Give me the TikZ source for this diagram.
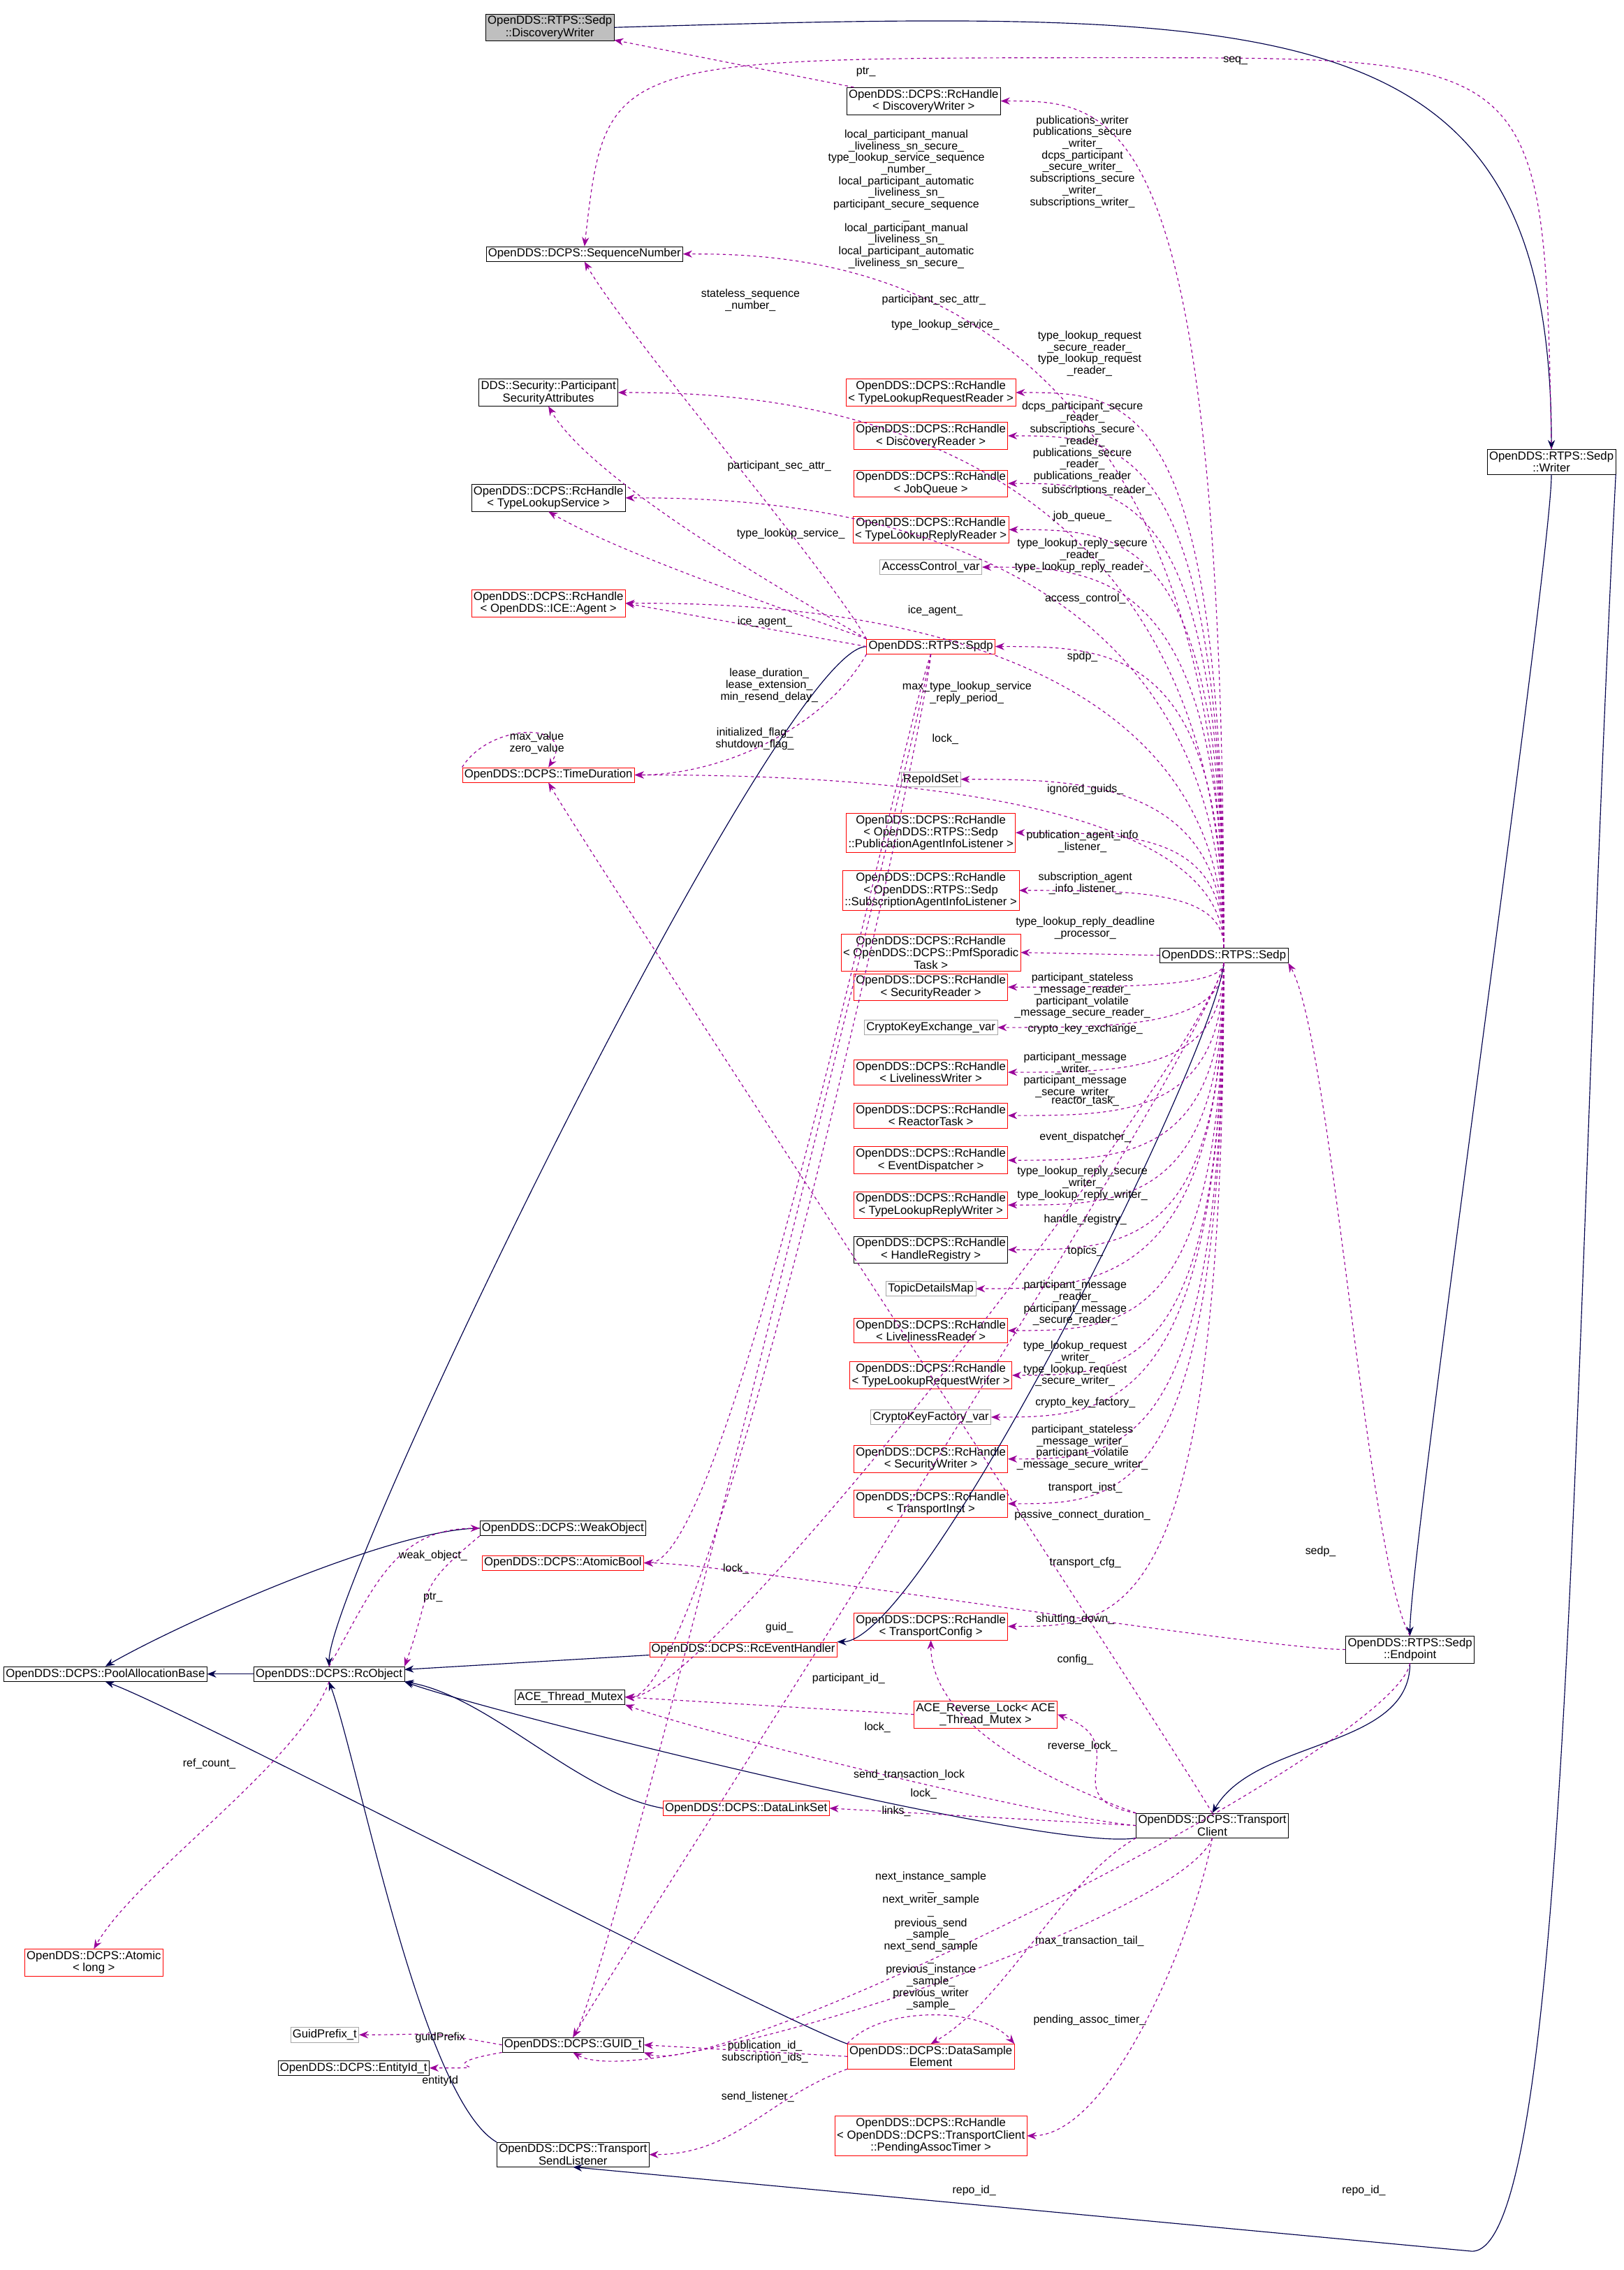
\documentclass[tikz,border=0pt]{standalone}
\usepackage{fontspec}
\setmainfont{Liberation Sans}
\usetikzlibrary{arrows.meta}
\tikzset{
  cls/.style={draw=black, fill=white, rectangle, inner sep=2pt, align=center, font=\fontsize{11.5}{12}\selectfont},
  redcls/.style={cls, draw=red},
  graycls/.style={cls, draw=black!35},
  gray fill/.style={cls, fill=black!25},
  inh/.style={-{Stealth[length=9pt,width=7pt]}, draw=blue!30!black, thick},
  dep/.style={-{Stealth[length=9pt,width=7pt]}, draw=violet!80!magenta, dashed, thick},
  lbl/.style={align=center, font=\fontsize{11}{11.5}\selectfont}
}
% curve from #1 leaving at page angle #2, entering #4 from page angle #3
\newcommand\crv[4]{(#1) .. controls +({-(#2)}:60) and +({-(#3)}:60) .. (#4)}
\begin{document}
\begin{tikzpicture}[x=0.5mm,y=-0.5mm]
  \useasboundingbox (0,0) rectangle (1125,1573);
  % left column
  \node[gray fill] (dw) at (381,19) {OpenDDS::RTPS::Sedp\\::DiscoveryWriter};
  \node[cls] (rhdw) at (640,70) {OpenDDS::DCPS::RcHandle\\< DiscoveryWriter >};
  \node[cls] (seqn) at (405,176) {OpenDDS::DCPS::SequenceNumber};
  \node[cls] (psa) at (380,272) {DDS::Security::Participant\\SecurityAttributes};
  \node[cls] (rhtls) at (380,345) {OpenDDS::DCPS::RcHandle\\< TypeLookupService >};
  \node[redcls] (rhice) at (380,418) {OpenDDS::DCPS::RcHandle\\< OpenDDS::ICE::Agent >};
  \node[redcls] (tdur) at (380,537) {OpenDDS::DCPS::TimeDuration};
  \node[redcls] (spdp) at (645,448) {OpenDDS::RTPS::Spdp};
  \node[cls] (weak) at (390,1059) {OpenDDS::DCPS::WeakObject};
  \node[redcls] (abool) at (390,1083) {OpenDDS::DCPS::AtomicBool};
  \node[cls] (pool) at (73,1160) {OpenDDS::DCPS::PoolAllocationBase};
  \node[cls] (rcobj) at (228,1160) {OpenDDS::DCPS::RcObject};
  \node[redcls] (rceh) at (515,1143) {OpenDDS::DCPS::RcEventHandler};
  \node[cls] (mutex) at (395,1176) {ACE\_Thread\_Mutex};
  \node[redcls] (revlock) at (683,1188) {ACE\_Reverse\_Lock< ACE\\\_Thread\_Mutex >};
  \node[redcls] (dls) at (517,1253) {OpenDDS::DCPS::DataLinkSet};
  \node[redcls] (atomic) at (65,1360) {OpenDDS::DCPS::Atomic\\< long >};
  \node[graycls] (gpref) at (225,1410) {GuidPrefix\_t};
  \node[cls] (eid) at (245,1433) {OpenDDS::DCPS::EntityId\_t};
  \node[cls] (guid) at (397,1417) {OpenDDS::DCPS::GUID\_t};
  \node[redcls] (dse) at (645,1425) {OpenDDS::DCPS::DataSample\\Element};
  \node[redcls] (pat) at (645,1480) {OpenDDS::DCPS::RcHandle\\< OpenDDS::DCPS::TransportClient\\::PendingAssocTimer >};
  \node[cls] (tsl) at (397,1493) {OpenDDS::DCPS::Transport\\SendListener};
  \node[cls] (tc) at (840,1265) {OpenDDS::DCPS::Transport\\Client};
  \node[cls] (endp) at (977,1143) {OpenDDS::RTPS::Sedp\\::Endpoint};
  \node[cls] (wr) at (1075,320) {OpenDDS::RTPS::Sedp\\::Writer};
  \node[cls] (sedp) at (848,662) {OpenDDS::RTPS::Sedp};
  % middle column
  \node[redcls] (tlrqr) at (645,272) {OpenDDS::DCPS::RcHandle\\< TypeLookupRequestReader >};
  \node[redcls] (dread) at (645,302) {OpenDDS::DCPS::RcHandle\\< DiscoveryReader >};
  \node[redcls] (jobq) at (645,335) {OpenDDS::DCPS::RcHandle\\< JobQueue >};
  \node[redcls] (tlrpr) at (645,367) {OpenDDS::DCPS::RcHandle\\< TypeLookupReplyReader >};
  \node[graycls] (acv) at (645,393) {AccessControl\_var};
  \node[graycls] (ris) at (645,540) {RepoIdSet};
  \node[redcls] (pail) at (645,577) {OpenDDS::DCPS::RcHandle\\< OpenDDS::RTPS::Sedp\\::PublicationAgentInfoListener >};
  \node[redcls] (sail) at (645,617) {OpenDDS::DCPS::RcHandle\\< OpenDDS::RTPS::Sedp\\::SubscriptionAgentInfoListener >};
  \node[redcls] (pmf) at (645,660) {OpenDDS::DCPS::RcHandle\\< OpenDDS::DCPS::PmfSporadic\\Task >};
  \node[redcls] (secr) at (645,684) {OpenDDS::DCPS::RcHandle\\< SecurityReader >};
  \node[graycls] (ckev) at (645,712) {CryptoKeyExchange\_var};
  \node[redcls] (livw) at (645,743) {OpenDDS::DCPS::RcHandle\\< LivelinessWriter >};
  \node[redcls] (reac) at (645,773) {OpenDDS::DCPS::RcHandle\\< ReactorTask >};
  \node[redcls] (evd) at (645,804) {OpenDDS::DCPS::RcHandle\\< EventDispatcher >};
  \node[redcls] (tlrpw) at (645,835) {OpenDDS::DCPS::RcHandle\\< TypeLookupReplyWriter >};
  \node[cls] (hreg) at (645,866) {OpenDDS::DCPS::RcHandle\\< HandleRegistry >};
  \node[graycls] (tdm) at (645,893) {TopicDetailsMap};
  \node[redcls] (livr) at (645,922) {OpenDDS::DCPS::RcHandle\\< LivelinessReader >};
  \node[redcls] (tlrqw) at (645,953) {OpenDDS::DCPS::RcHandle\\< TypeLookupRequestWriter >};
  \node[graycls] (ckfv) at (645,982) {CryptoKeyFactory\_var};
  \node[redcls] (secw) at (645,1011) {OpenDDS::DCPS::RcHandle\\< SecurityWriter >};
  \node[redcls] (tinst) at (645,1042) {OpenDDS::DCPS::RcHandle\\< TransportInst >};
  \node[redcls] (tcfg) at (645,1127) {OpenDDS::DCPS::RcHandle\\< TransportConfig >};

  % inheritance
  \draw[inh] (dw.east) .. controls (900,5) and (1075,5) .. (wr.north);
  \draw[inh] \crv{wr.south}{-90}{90}{endp.north};
  \draw[inh] \crv{endp.south}{-90}{60}{tc.north};
  \draw[inh] \crv{tc.south west}{190}{-20}{rcobj.south east};
  \draw[inh] (rcobj) -- (pool);
  \draw[inh] \crv{weak.west}{180}{30}{pool.north};
  \draw[inh] (rceh) -- (rcobj);
  \draw[inh] \crv{dls.west}{170}{-10}{rcobj.south east};
  \draw[inh] \crv{dse.north west}{160}{-20}{pool.south};
  \draw[inh] \crv{tsl.north west}{150}{-70}{rcobj.south};
  \draw[inh] (wr.south east) .. controls (1090,900) and (1090,1560) .. (1020,1560) -- (tsl.south);
  \draw[inh] \crv{spdp.west}{180}{90}{rcobj.north};
  \draw[inh] \crv{sedp.south}{-95}{0}{rceh.north east};

  % members
  \draw[dep] (rhdw) -- (dw);
  \draw[dep] (wr.north) .. controls (1070,40) .. (780,40) .. controls (420,40) .. (seqn.north);
  \foreach \t in {rhdw,seqn,psa,rhtls,rhice,spdp,tdur,tlrqr,dread,jobq,tlrpr,acv,ris,pail,sail}
    \draw[dep] (sedp.north) .. controls (sedp.north |- \t.east) and +(80,0) .. (\t.east);
  \draw[dep] (sedp.west) -- (pmf.east);
  \foreach \t in {secr,ckev,livw,reac,evd,tlrpw,hreg,tdm,livr,tlrqw,ckfv,secw,tinst,tcfg}
    \draw[dep] (sedp.south) .. controls (sedp.south |- \t.east) and +(80,0) .. (\t.east);
  \draw[dep] \crv{sedp.south}{-100}{0}{mutex.east};
  \draw[dep] \crv{sedp.south}{-100}{60}{guid.north};
  \draw[dep] \crv{spdp.north west}{120}{-60}{seqn.south};
  \draw[dep] \crv{spdp.north west}{150}{-60}{psa.south};
  \draw[dep] \crv{spdp.north west}{160}{-30}{rhtls.south};
  \draw[dep] (spdp.west) -- (rhice.east);
  \draw[dep] \crv{spdp.south west}{-120}{0}{tdur.east};
  \draw[dep] (tdur.north west) .. controls (340,500) and (400,500) .. (tdur.north);
  \draw[dep] \crv{spdp.south}{-110}{0}{abool.east};
  \draw[dep] \crv{spdp.south}{-95}{0}{mutex.east};
  \draw[dep] \crv{spdp.south}{-100}{60}{guid.north};
  \draw[dep] \crv{endp.west}{180}{0}{abool.east};
  \draw[dep] \crv{endp.north}{120}{-60}{sedp.south east};
  \draw[dep] \crv{endp.south}{-100}{-20}{guid.south east};
  \draw[dep] \crv{tc.north}{120}{-60}{tdur.south};
  \draw[dep] \crv{tc.north west}{160}{-90}{tcfg.south};
  \draw[dep] \crv{tc.north west}{170}{-20}{revlock.east};
  \draw[dep] (revlock.west) -- (mutex.east);
  \draw[dep] \crv{tc.west}{175}{-20}{mutex.south east};
  \draw[dep] (tc.west) -- (dls.east);
  \draw[dep] \crv{tc.south west}{-150}{30}{dse.north};
  \draw[dep] (dse.north west) .. controls (610,1390) and (680,1390) .. (dse.north east);
  \draw[dep] \crv{tc.south}{-100}{0}{pat.east};
  \draw[dep] \crv{tc.south}{-110}{-30}{guid.south};
  \draw[dep] (dse.west) -- (guid.east);
  \draw[dep] \crv{dse.south west}{-160}{0}{tsl.east};
  \draw[dep] \crv{guid.west}{170}{0}{gpref.east};
  \draw[dep] \crv{guid.south west}{-170}{0}{eid.east};
  \draw[dep] \crv{rcobj.north}{60}{180}{weak.west};
  \draw[dep] \crv{weak.south west}{-140}{70}{rcobj.north east};
  \draw[dep] \crv{rcobj.south}{-110}{60}{atomic.north};

  % labels
  \node[lbl] at (600,50) {ptr\_};
  \node[lbl] at (856,42) {seq\_};
  \node[lbl] at (750,112) {publications\_writer\\publications\_secure\\\_writer\_\\dcps\_participant\\\_secure\_writer\_\\subscriptions\_secure\\\_writer\_\\subscriptions\_writer\_};
  \node[lbl] at (628,138) {local\_participant\_manual\\\_liveliness\_sn\_secure\_\\type\_lookup\_service\_sequence\\\_number\_\\local\_participant\_automatic\\\_liveliness\_sn\_\\participant\_secure\_sequence\\\_\\local\_participant\_manual\\\_liveliness\_sn\_\\local\_participant\_automatic\\\_liveliness\_sn\_secure\_};
  \node[lbl] at (520,208) {stateless\_sequence\\\_number\_};
  \node[lbl] at (647,208) {participant\_sec\_attr\_};
  \node[lbl] at (655,225) {type\_lookup\_service\_};
  \node[lbl] at (540,323) {participant\_sec\_attr\_};
  \node[lbl] at (548,370) {type\_lookup\_service\_};
  \node[lbl] at (648,423) {ice\_agent\_};
  \node[lbl] at (530,431) {ice\_agent\_};
  \node[lbl] at (533,475) {lease\_duration\_\\lease\_extension\_\\min\_resend\_delay\_};
  \node[lbl] at (372,515) {max\_value\\zero\_value};
  \node[lbl] at (523,512) {initialized\_flag\_\\shutdown\_flag\_};
  \node[lbl] at (670,480) {max\_type\_lookup\_service\\\_reply\_period\_};
  \node[lbl] at (655,512) {lock\_};
  \node[lbl] at (750,455) {spdp\_};
  \node[lbl] at (755,245) {type\_lookup\_request\\\_secure\_reader\_\\type\_lookup\_request\\\_reader\_};
  \node[lbl] at (750,306) {dcps\_participant\_secure\\\_reader\_\\subscriptions\_secure\\\_reader\_\\publications\_secure\\\_reader\_\\publications\_reader};
  \node[lbl] at (760,340) {subscriptions\_reader\_};
  \node[lbl] at (750,358) {job\_queue\_};
  \node[lbl] at (750,385) {type\_lookup\_reply\_secure\\\_reader\_\\type\_lookup\_reply\_reader\_};
  \node[lbl] at (752,415) {access\_control\_};
  \node[lbl] at (752,547) {ignored\_guids\_};
  \node[lbl] at (750,583) {publication\_agent\_info\\\_listener\_};
  \node[lbl] at (752,612) {subscription\_agent\\\_info\_listener\_};
  \node[lbl] at (752,643) {type\_lookup\_reply\_deadline\\\_processor\_};
  \node[lbl] at (750,690) {participant\_stateless\\\_message\_reader\_\\participant\_volatile\\\_message\_secure\_reader\_};
  \node[lbl] at (752,713) {crypto\_key\_exchange\_};
  \node[lbl] at (745,745) {participant\_message\\\_writer\_\\participant\_message\\\_secure\_writer\_};
  \node[lbl] at (752,763) {reactor\_task\_};
  \node[lbl] at (752,788) {event\_dispatcher\_};
  \node[lbl] at (750,820) {type\_lookup\_reply\_secure\\\_writer\_\\type\_lookup\_reply\_writer\_};
  \node[lbl] at (752,845) {handle\_registry\_};
  \node[lbl] at (752,867) {topics\_};
  \node[lbl] at (745,903) {participant\_message\\\_reader\_\\participant\_message\\\_secure\_reader\_};
  \node[lbl] at (745,945) {type\_lookup\_request\\\_writer\_\\type\_lookup\_request\\\_secure\_writer\_};
  \node[lbl] at (752,972) {crypto\_key\_factory\_};
  \node[lbl] at (750,1003) {participant\_stateless\\\_message\_writer\_\\participant\_volatile\\\_message\_secure\_writer\_};
  \node[lbl] at (752,1031) {transport\_inst\_};
  \node[lbl] at (750,1050) {passive\_connect\_duration\_};
  \node[lbl] at (752,1083) {transport\_cfg\_};
  \node[lbl] at (510,1087) {lock\_};
  \node[lbl] at (745,1122) {shutting\_down\_};
  \node[lbl] at (540,1128) {guid\_};
  \node[lbl] at (745,1150) {config\_};
  \node[lbl] at (588,1163) {participant\_id\_};
  \node[lbl] at (608,1197) {lock\_};
  \node[lbl] at (750,1210) {reverse\_lock\_};
  \node[lbl] at (630,1230) {send\_transaction\_lock};
  \node[lbl] at (640,1243) {lock\_};
  \node[lbl] at (621,1255) {links\_};
  \node[lbl] at (915,1075) {sedp\_};
  \node[lbl] at (755,1345) {max\_transaction\_tail\_};
  \node[lbl] at (645,1345) {next\_instance\_sample\\\_\\next\_writer\_sample\\\_\\previous\_send\\\_sample\_\\next\_send\_sample\\\_\\previous\_instance\\\_sample\_\\previous\_writer\\\_sample\_};
  \node[lbl] at (755,1400) {pending\_assoc\_timer\_};
  \node[lbl] at (530,1422) {publication\_id\_\\subscription\_ids\_};
  \node[lbl] at (525,1453) {send\_listener\_};
  \node[lbl] at (675,1518) {repo\_id\_};
  \node[lbl] at (945,1518) {repo\_id\_};
  \node[lbl] at (305,1412) {guidPrefix};
  \node[lbl] at (305,1442) {entityId};
  \node[lbl] at (300,1078) {weak\_object\_};
  \node[lbl] at (300,1107) {ptr\_};
  \node[lbl] at (145,1222) {ref\_count\_};
\end{tikzpicture}
\end{document}
